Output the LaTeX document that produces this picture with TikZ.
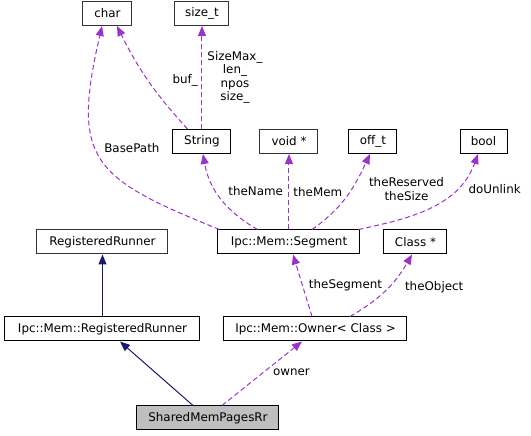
\documentclass[tikz,border=0pt]{standalone}
\usepackage{fontspec}
\setmainfont{DejaVu Sans}
\usetikzlibrary{positioning,arrows.meta}

\definecolor{depcolor}{RGB}{154,50,205}
\definecolor{inhcolor}{RGB}{25,25,112}
\definecolor{curcolor}{RGB}{191,191,191}

\begin{document}
\begin{tikzpicture}[font=\fontsize{11.9}{13.4}\selectfont,
		box/.style={draw,minimum height=24pt,inner sep=0pt,line width=1pt},
		undoc/.style={draw=black!80},
		dep/.style={depcolor,dash pattern=on 5pt off 3pt,line width=1pt,-{Triangle[length=10pt,width=8pt]}},
		inh/.style={inhcolor,line width=1pt,-{Triangle[length=10pt,width=8pt]}},
		lbl/.style={inner sep=0pt,black,align=center}]
			\useasboundingbox (-208pt,-18pt) rectangle (323pt,418pt);
			\node[box,fill=curcolor,minimum width=142pt] (shared) {SharedMemPagesRr};
			\node[box,minimum width=195pt,above=64pt of shared,xshift=-105.5pt] (ipcrr) {Ipc::Mem::RegisteredRunner};
			\node[box,minimum width=183pt,above=64pt of shared,xshift=107.5pt] (owner) {Ipc::Mem::Owner< Class >};
			\node[box,undoc,minimum width=131pt,above=62pt of ipcrr] (rr) {RegisteredRunner};
			\node[box,minimum width=142pt,above=62pt of owner,xshift=-26.5pt] (segment) {Ipc::Mem::Segment};
			\node[box,minimum width=63pt,above=62pt of owner,xshift=100pt] (classptr) {Class *};
			\node[box,minimum width=58pt,above=75.5pt of segment,xshift=-87pt] (string) {String};
			\node[box,undoc,minimum width=58pt,above=75.5pt of segment] (voidptr) {void *};
			\node[box,minimum width=48pt,above=75.5pt of segment,xshift=84pt] (offt) {off\_t};
			\node[box,minimum width=47pt,above=75.5pt of segment,xshift=194.5pt] (bool) {bool};
			\node[box,undoc,minimum width=54pt,above=103pt of string] (sizet) {size\_t};
			\node[box,undoc,minimum width=49pt,above=103pt of string,xshift=-94.5pt] (char) {char};
			\draw[inh] (ipcrr) -- (rr);
			\draw[inh] ([xshift=-15pt]shared.north) -- ([xshift=17.5pt]ipcrr.south);
			\draw[dep] ([xshift=14pt]shared.north) -- node[lbl,pos=.52,right=9pt] {owner} ([xshift=-13.5pt]owner.south);
			\draw[dep] ([xshift=-3.5pt]owner.north) -- node[lbl,midway,right=6pt] {theSegment} ([xshift=4pt]segment.south);
			\draw[dep] ([xshift=34.5pt]owner.north) to[out=30,in=-120] node[lbl,pos=.55,right=16pt] {theObject} ([xshift=-3.5pt]classptr.south);
			\draw[dep] ([xshift=2pt]segment.north west) to[out=158,in=-103,looseness=1.5] node[lbl,pos=.56,right=8pt] {BasePath} ([xshift=-5.5pt]char.south);
			\draw[dep] ([xshift=40pt]segment.north west) to[out=150,in=-80] node[lbl,pos=.6,right=12pt] {theName} ([xshift=1pt]string.south);
			\draw[dep] (segment) -- node[lbl,midway,right=4pt] {theMem} (voidptr);
			\draw[dep] ([xshift=23pt]segment.north) to[out=35,in=-115] node[lbl,pos=.6,right=17pt] {theReserved\\theSize} ([xshift=-3pt]offt.south);
			\draw[dep] ([xshift=-2pt]segment.north east) to[out=12,in=-110] node[lbl,pos=.72,right=12pt] {doUnlink} ([xshift=-5.5pt]bool.south);
			\draw[dep] ([xshift=15pt]string.north west) to[bend left=8] node[lbl,midway,right=24pt] {buf\_} ([xshift=9.5pt]char.south);
			\draw[dep] (string) -- node[lbl,midway,right=5pt] {SizeMax\_\\len\_\\npos\\size\_} (sizet);
		\end{tikzpicture}
\end{document}
